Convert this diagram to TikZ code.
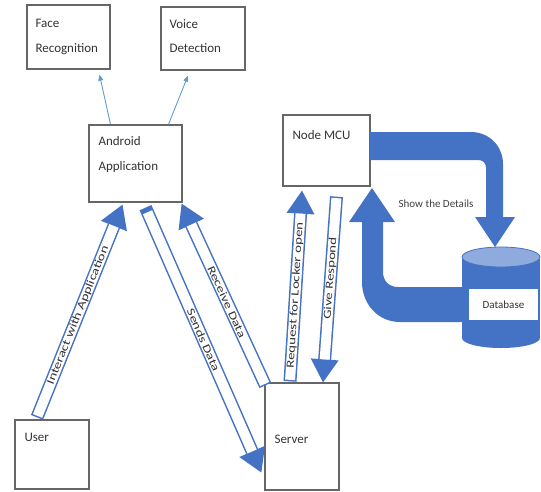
\documentclass[tikz,border=0pt]{standalone}
\usepackage{fontspec}
\setmainfont{Carlito}
\newfontfamily\arrowfont[FakeStretch=1.35]{Carlito}
\usetikzlibrary{arrows.meta}
\definecolor{officeblue}{HTML}{4472C4}
\definecolor{lightblue}{HTML}{5B9BD5}
\definecolor{cyltop}{HTML}{8FAADC}

\begin{document}
\begin{tikzpicture}[x=1pt, y=-1pt,
	box/.style={draw=black!60, line width=1.3pt, inner sep=0pt},
	boxtext/.style={anchor=north west, inner sep=0pt, align=left, text=black!80, font=\fontsize{13}{24.5}\selectfont},
	hollow/.style={draw=officeblue, line width=13pt, -{Triangle[length=23pt, width=28pt, line width=0pt]},
		postaction={draw=white, line width=10pt, arrows=-, shorten >=23pt, shorten <=#1}},
	hollow/.default=1.5pt,
	arrowlbl/.style={sloped, inner sep=0pt, text=black!80, font=\arrowfont\fontsize{11}{13}\selectfont},
	pointer/.style={draw=lightblue, line width=0.9pt, -{Triangle[length=6pt, width=5pt]}}]
	\useasboundingbox (0,0) rectangle (541,491);

	\node[box, minimum width=83, minimum height=64] (face) at (68.5,37) {};
	\node[box, minimum width=84, minimum height=63] (voice) at (203,38.5) {};
	\node[box, minimum width=93, minimum height=77] (android) at (135.5,163.5) {};
	\node[box, minimum width=87, minimum height=71] (mcu) at (326.5,150.5) {};
	\node[box, minimum width=74, minimum height=69] (user) at (52,454.5) {};
	\node[box, minimum width=74, minimum height=107] (server) at (302,436.5) {};

	\node[boxtext] (faceText) at ([shift={(9,15)}]face.north west) {Face\\Recognition};
	\node[boxtext] (voiceText) at ([shift={(9,13)}]voice.north west) {Voice\\Detection};
	\node[boxtext] (androidText) at ([shift={(10,12)}]android.north west) {Android\\Application};
	\node[boxtext] (mcuText) at ([shift={(10,16)}]mcu.north west) {Node MCU};
	\node[boxtext] (userText) at ([shift={(10,14)}]user.north west) {User};
	\node[boxtext] (serverText) at ([shift={(10,53)}]server.north west) {Server};

	\draw[pointer] ([xshift=-25]android.north) -- ([xshift=31,yshift=-5]face.south);
	\draw[pointer] ([xshift=33]android.north) -- ([xshift=-15,yshift=-5]voice.south);

	\draw[hollow] ([xshift=-15,yshift=2]user.north) -- node[arrowlbl, pos=0.48] (interactLbl) {Interact with Application} ([xshift=-13,yshift=-2]android.south);
	\draw[hollow=5pt] ([xshift=10,yshift=-5]android.south) -- node[arrowlbl, pos=0.5] (sendsLbl) {Sends Data} ([xshift=-3,yshift=-36]server.west);
	\draw[hollow] ([xshift=1,yshift=-3]server.north west) -- node[arrowlbl, pos=0.46] (receiveLbl) {Receive Data} ([xshift=-1,yshift=-1]android.south east);
	\draw[hollow] ([xshift=-12,yshift=1]server.north) -- node[arrowlbl, pos=0.45] (requestLbl) {Request for Locker open} ([xshift=-24.5,yshift=-4]mcu.south);
	\draw[hollow] ([xshift=10,yshift=-10]mcu.south) -- node[arrowlbl, pos=0.44] (giveLbl) {Give Respond} ([xshift=21]server.north);

	% bent block arrows between Node MCU and the database
	\fill[officeblue] (370,132) -- (471,132) .. controls (489,132) and (503,146) .. (503,164) -- (503,217) -- (515,217) -- (495,247) -- (475,217) -- (486,217) -- (486,168) .. controls (486,163) and (483,160) .. (478,160) -- (370,160) -- cycle;
	\fill[officeblue] (462,287) -- (398,287) .. controls (389,287) and (383,281) .. (383,272) -- (383,222) -- (395,222) -- (372,188) -- (349,222) -- (362,222) -- (362,282) .. controls (362,304) and (378,322) .. (400,322) -- (462,322) -- cycle;
	\node[text=black!75, font=\fontsize{11}{13}\selectfont] (showLbl) at (436,204) {Show the Details};

	% database cylinder
	\fill[officeblue] (462,257) rectangle (540,338);
	\fill[officeblue] (501,338) ellipse [x radius=39, y radius=10];
	\filldraw[fill=cyltop, draw=officeblue, line width=0.8pt] (501,257) ellipse [x radius=39, y radius=10];
	\node[fill=white, minimum width=69, minimum height=31, text=black!80, font=\fontsize{11}{13}\selectfont] (db) at (503.5,304.5) {Database};
\end{tikzpicture}
\end{document}
